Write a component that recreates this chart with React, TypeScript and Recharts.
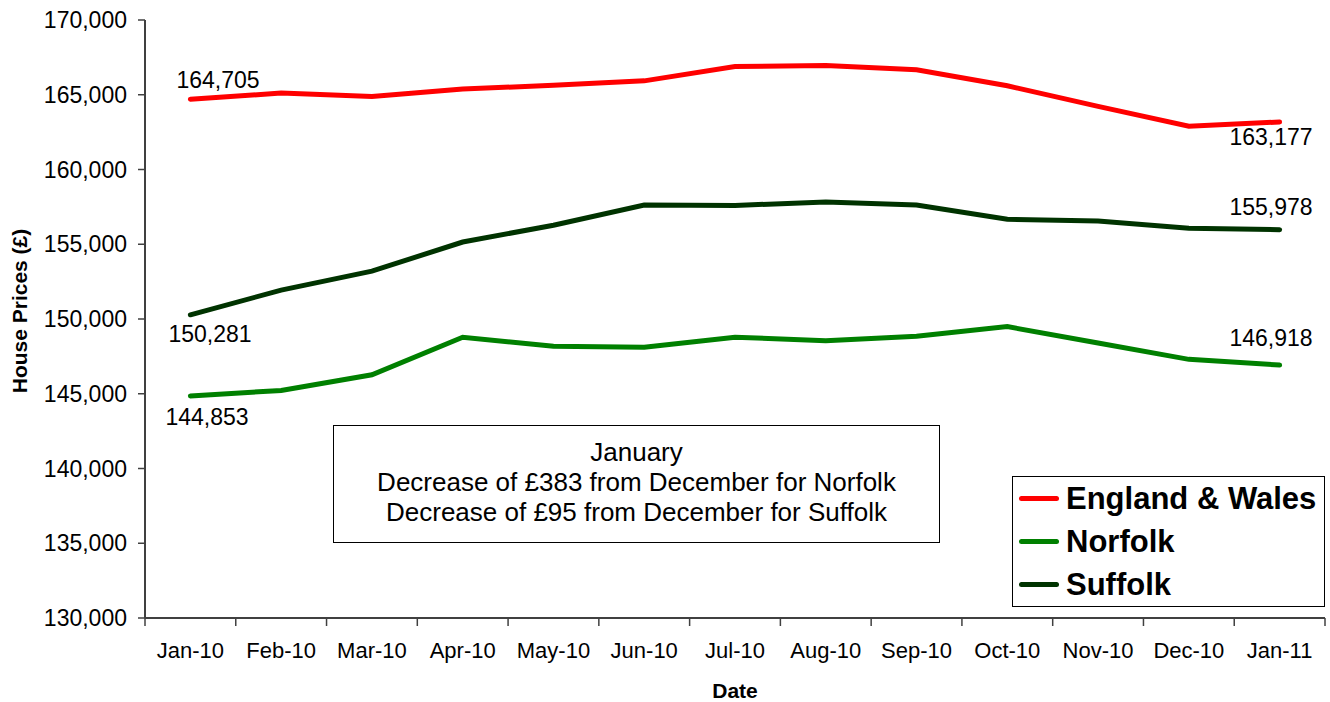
import React from 'react';
import { LineChart, Line, XAxis, YAxis, Legend } from 'recharts';

const months = ['Jan-10', 'Feb-10', 'Mar-10', 'Apr-10', 'May-10', 'Jun-10', 'Jul-10', 'Aug-10', 'Sep-10', 'Oct-10', 'Nov-10', 'Dec-10', 'Jan-11'];
const englandWales = [164705, 165110, 164890, 165380, 165640, 165930, 166890, 166960, 166670, 165600, 164220, 162890, 163177];
const norfolk = [144853, 145220, 146270, 148780, 148180, 148110, 148780, 148550, 148840, 149490, 148400, 147301, 146918];
const suffolk = [150281, 151930, 153200, 155150, 156270, 157620, 157600, 157820, 157620, 156670, 156560, 156073, 155978];
const yTicks = [130000, 135000, 140000, 145000, 150000, 155000, 160000, 165000, 170000];
const noteLines = ['January', 'Decrease of £383 from December for Norfolk', 'Decrease of £95 from December for Suffolk'];

const data = months.map((m, i) => ({ month: m, ew: englandWales[i], norfolk: norfolk[i], suffolk: suffolk[i] }));

const W = 1330;
const H = 702;
const Y_AXIS_W = 145;
const RIGHT = 5;
const BAND = (W - Y_AXIS_W - RIGHT) / months.length;
const AXIS = '#404040';
const fmt = (v: number) => Number(v).toLocaleString('en-US');

// where the first / last value labels sit relative to the point
type Pos = { dx: number; dy: number; anchor: 'start' | 'end' };
const labelPos: Record<string, [Pos, Pos]> = {
  ew: [{ dx: -14, dy: -11, anchor: 'start' }, { dx: 33, dy: 23, anchor: 'end' }],
  suffolk: [{ dx: -22, dy: 27, anchor: 'start' }, { dx: 33, dy: -15, anchor: 'end' }],
  norfolk: [{ dx: -25, dy: 29, anchor: 'start' }, { dx: 33, dy: -19, anchor: 'end' }],
};

const endLabel = (key: string) => (props: any) => {
  const { index, value } = props;
  const x = props.x ?? props.viewBox?.x;
  const y = props.y ?? props.viewBox?.y;
  const last = months.length - 1;
  if (index !== 0 && index !== last) return null;
  const p = labelPos[key][index === 0 ? 0 : 1];
  return (
    <text x={x + p.dx} y={y + p.dy} textAnchor={p.anchor} fontSize={23} fill="#000">
      {fmt(value)}
    </text>
  );
};

const XTick = (props: any) => {
  const { x, y, payload, index } = props;
  return (
    <g>
      <line x1={x - BAND / 2} x2={x - BAND / 2} y1={y} y2={y + 8} stroke={AXIS} strokeWidth={1.5} />
      {index === months.length - 1 && (
        <line x1={x + BAND / 2} x2={x + BAND / 2} y1={y} y2={y + 8} stroke={AXIS} strokeWidth={1.5} />
      )}
      <text x={x} y={y + 40} textAnchor="middle" fontSize={22} fill="#000">
        {payload.value}
      </text>
    </g>
  );
};

const YLabel = (props: any) => {
  const vb = props.viewBox || { y: 20, height: 598 };
  const cx = 19;
  const cy = vb.y + vb.height / 2 - 8;
  return (
    <text
      x={cx}
      y={cy}
      transform={`rotate(-90, ${cx}, ${cy})`}
      textAnchor="middle"
      dominantBaseline="central"
      fontSize={21}
      fontWeight="bold"
      fill="#000"
    >
      House Prices (£)
    </text>
  );
};

const LegendBox = (props: any) => (
  <div
    style={{
      width: 313,
      height: 131,
      border: '1.5px solid #000',
      boxSizing: 'border-box',
      background: '#fff',
    }}
  >
    {(props.payload || []).map((item: any) => (
      <div key={item.value} style={{ display: 'flex', alignItems: 'center', height: 43 }}>
        <span
          style={{
            display: 'inline-block',
            width: 40,
            height: 5,
            borderRadius: 3,
            background: item.color,
            marginLeft: 6,
            marginRight: 7,
          }}
        />
        <span style={{ fontSize: 31, fontWeight: 'bold', color: '#000', lineHeight: 1 }}>{item.value}</span>
      </div>
    ))}
  </div>
);

export default function App() {
  return (
    <div style={{ position: 'relative', width: W, height: H, fontFamily: '"Liberation Sans", Arial, sans-serif', background: '#fff' }}>
      <style>{'body{margin:0}'}</style>
      <LineChart width={W} height={H} data={data} margin={{ top: 20, right: RIGHT, bottom: 0, left: 0 }}>
        <XAxis
          dataKey="month"
          height={84}
          padding={{ left: BAND / 2, right: BAND / 2 }}
          interval={0}
          tickSize={0}
          tickMargin={0}
          tickLine={false}
          tick={<XTick />}
          axisLine={{ stroke: AXIS, strokeWidth: 2 }}
          label={{ value: 'Date', position: 'insideBottom', offset: 4, fontSize: 21, fontWeight: 'bold', fill: '#000' }}
        />
        <XAxis xAxisId="top" orientation="top" dataKey="month" height={0} tick={false} tickLine={false} axisLine={{ stroke: '#888', strokeWidth: 2 }} />
        <YAxis
          width={Y_AXIS_W}
          domain={[130000, 170000]}
          ticks={yTicks}
          interval={0}
          tickSize={7}
          tickMargin={11}
          tickFormatter={fmt}
          tick={{ fontSize: 23, fill: '#000' }}
          tickLine={{ stroke: AXIS, strokeWidth: 1.5 }}
          axisLine={{ stroke: AXIS, strokeWidth: 2 }}
          label={<YLabel />}
        />
        <YAxis yAxisId="right" orientation="right" width={0} tick={false} tickLine={false} axisLine={{ stroke: '#888', strokeWidth: 2 }} />
        <Legend
          layout="horizontal"
          align="center"
          verticalAlign="middle"
          content={<LegendBox />}
          wrapperStyle={{ left: 1012, top: 476, width: 313 }}
        />
        <Line dataKey="ew" name="England & Wales" stroke="#ff0000" strokeWidth={5} strokeLinecap="round" dot={false} activeDot={false} isAnimationActive={false} label={endLabel('ew')} />
        <Line dataKey="norfolk" name="Norfolk" stroke="#008000" strokeWidth={5} strokeLinecap="round" dot={false} activeDot={false} isAnimationActive={false} label={endLabel('norfolk')} />
        <Line dataKey="suffolk" name="Suffolk" stroke="#003300" strokeWidth={5} strokeLinecap="round" dot={false} activeDot={false} isAnimationActive={false} label={endLabel('suffolk')} />
      </LineChart>
      <div
        style={{
          position: 'absolute',
          left: 333,
          top: 425,
          width: 607,
          height: 118,
          border: '1.5px solid #000',
          boxSizing: 'border-box',
          background: '#fff',
          textAlign: 'center',
          fontSize: 26,
          lineHeight: '30px',
          paddingTop: 11,
          color: '#000',
        }}
      >
        {noteLines.map((t) => (
          <div key={t}>{t}</div>
        ))}
      </div>
    </div>
  );
}
